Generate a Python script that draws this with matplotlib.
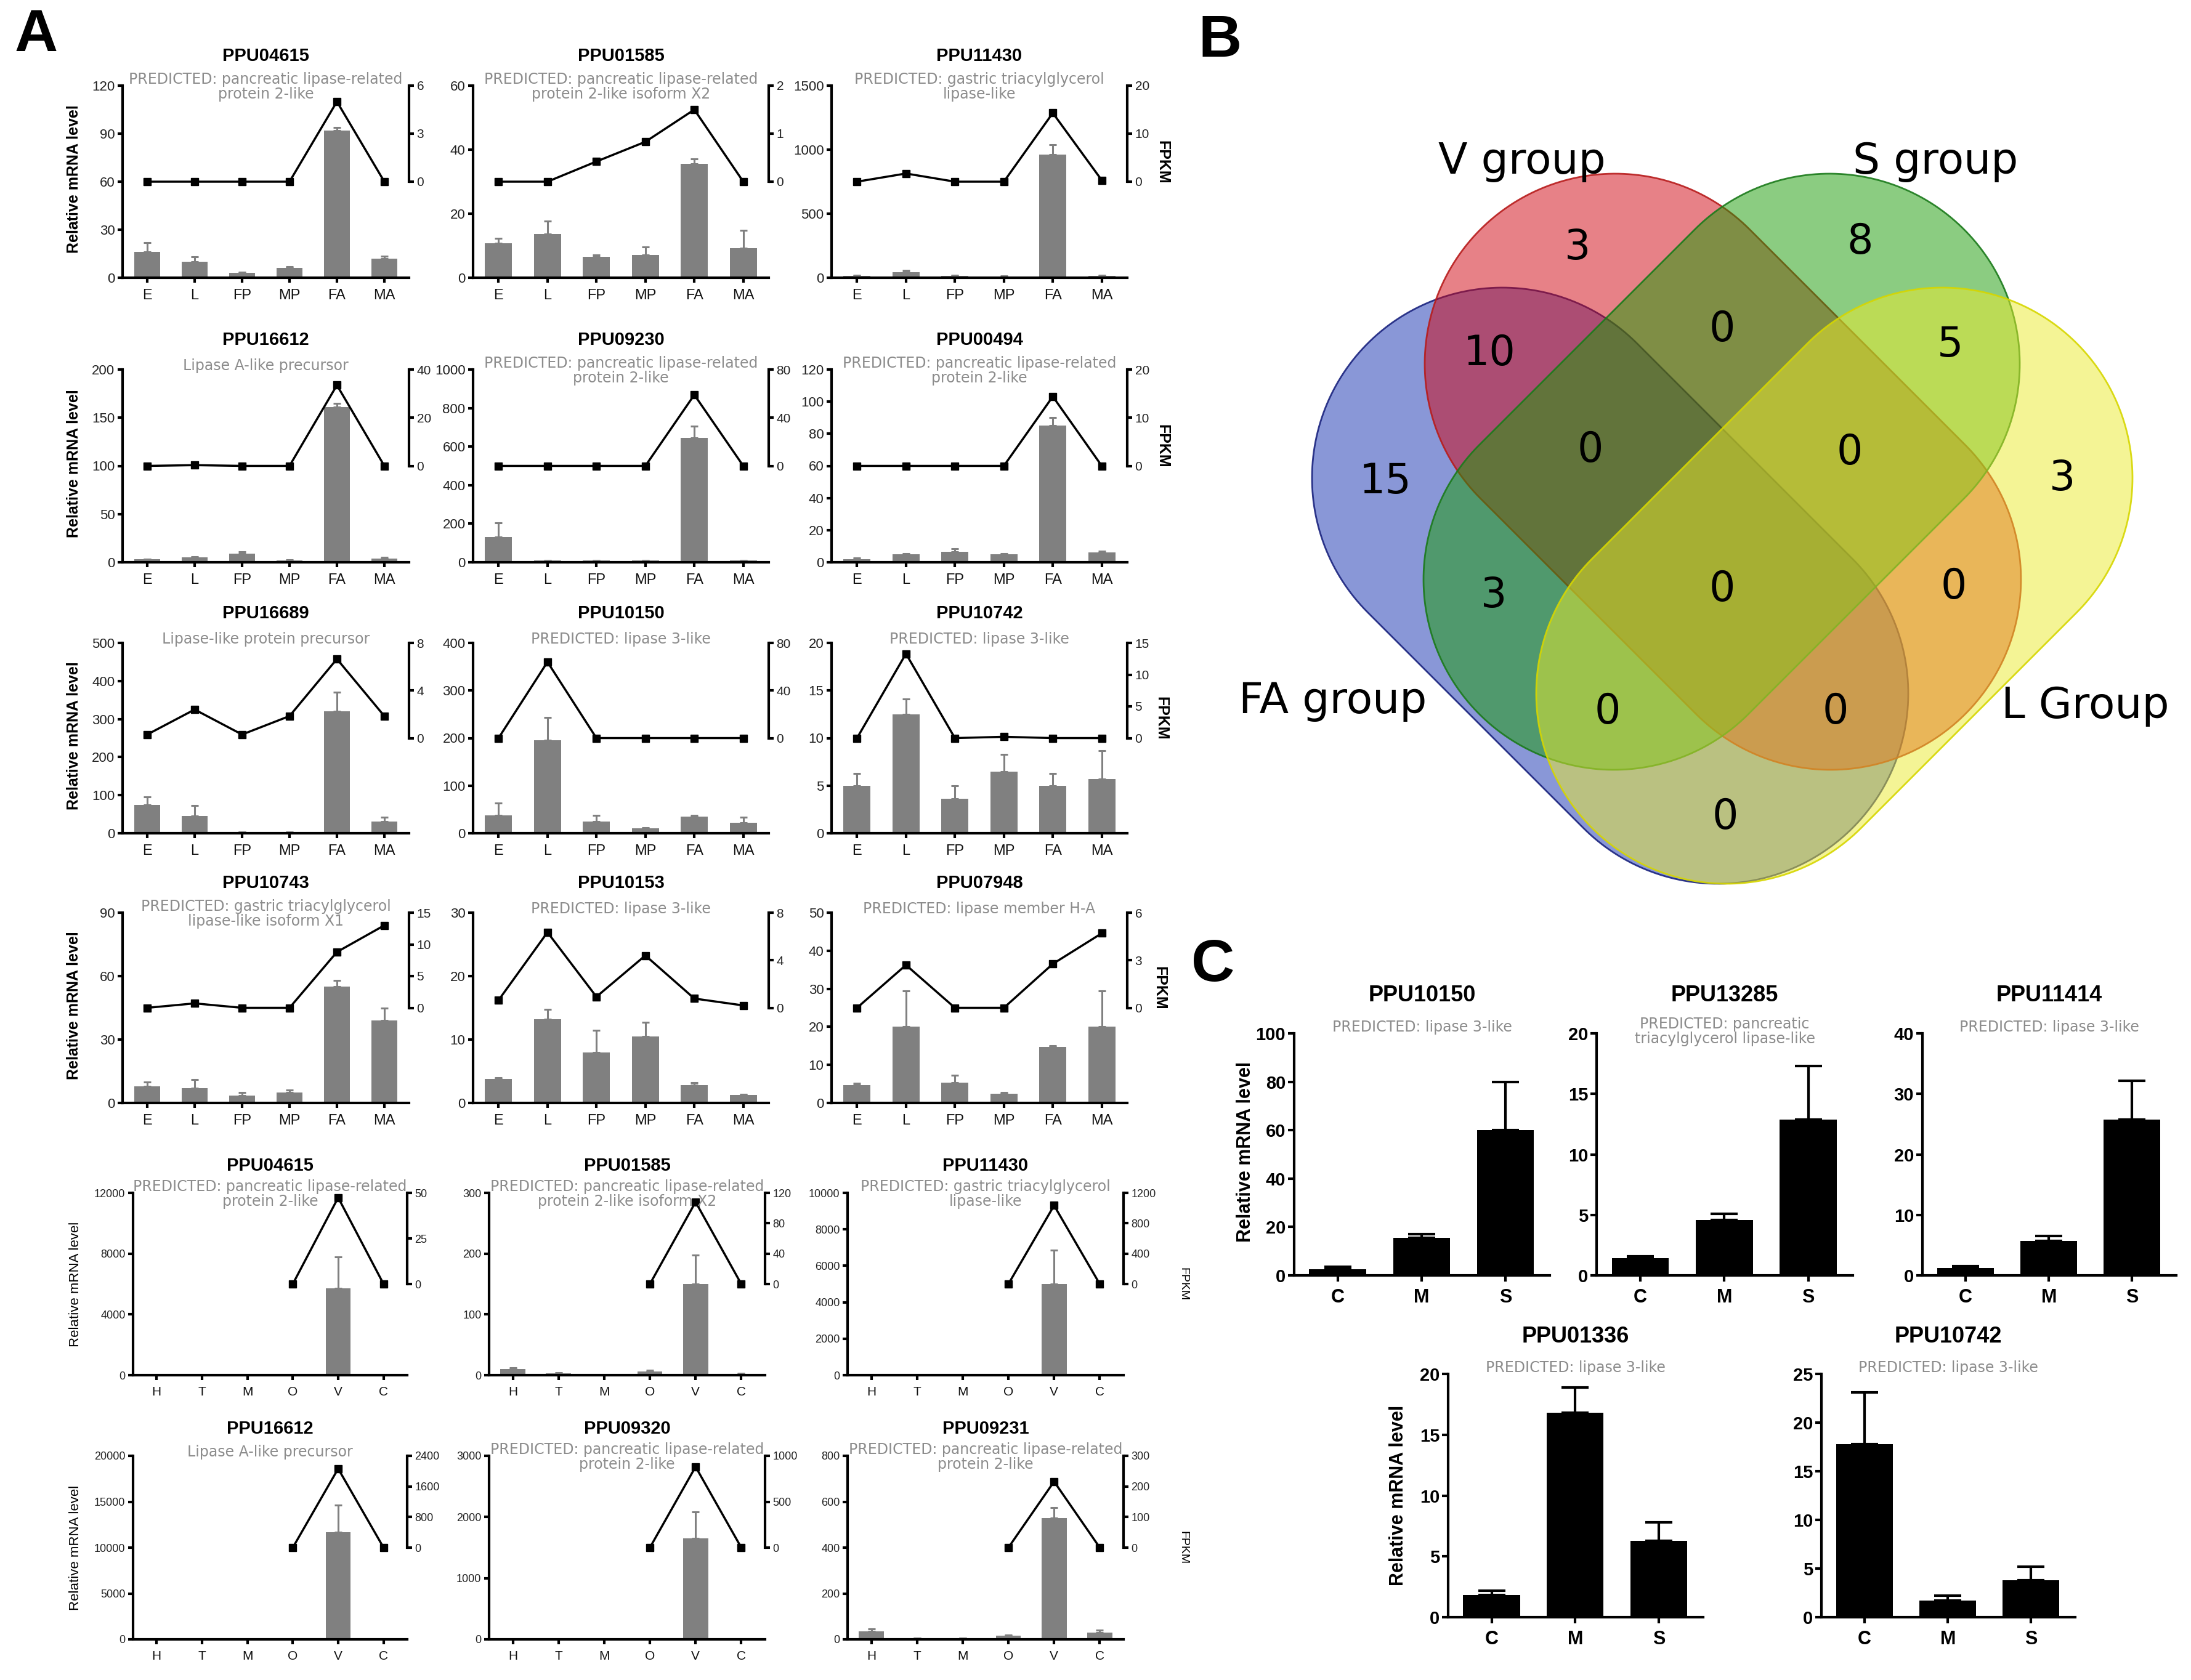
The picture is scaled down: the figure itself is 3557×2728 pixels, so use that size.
import numpy as np
import matplotlib
matplotlib.use('Agg')
import matplotlib.pyplot as plt
from matplotlib.patches import Polygon
from matplotlib.colors import to_rgba

plt.rcParams['font.family'] = ['Liberation Sans', 'DejaVu Sans']

W, H = 3557, 2728
fig = plt.figure(figsize=(W / 100, H / 100), dpi=100)
fig.patch.set_facecolor('white')

# ---------------- data ----------------
stage_labels = ['E', 'L', 'FP', 'MP', 'FA', 'MA']
tissue_labels = ['H', 'T', 'M', 'O', 'V', 'C']

stage_genes = ['PPU04615', 'PPU01585', 'PPU11430',
               'PPU16612', 'PPU09230', 'PPU00494',
               'PPU16689', 'PPU10150', 'PPU10742',
               'PPU10743', 'PPU10153', 'PPU07948']
stage_desc = [
    'PREDICTED: pancreatic lipase-related\nprotein 2-like',
    'PREDICTED: pancreatic lipase-related\nprotein 2-like isoform X2',
    'PREDICTED: gastric triacylglycerol\nlipase-like',
    'Lipase A-like precursor',
    'PREDICTED: pancreatic lipase-related\nprotein 2-like',
    'PREDICTED: pancreatic lipase-related\nprotein 2-like',
    'Lipase-like protein precursor',
    'PREDICTED: lipase 3-like',
    'PREDICTED: lipase 3-like',
    'PREDICTED: gastric triacylglycerol\nlipase-like isoform X1',
    'PREDICTED: lipase 3-like',
    'PREDICTED: lipase member H-A',
]
stage_qpcr = [
    [16, 10, 3, 6, 92, 12],
    [10.8, 13.6, 6.6, 7.2, 35.6, 9.3],
    [15, 45, 15, 12, 960, 15],
    [3, 5, 9, 2, 161, 4],
    [130, 8, 8, 8, 645, 8],
    [2, 5, 6.5, 5, 85, 6],
    [75, 45, 3, 2, 320, 30],
    [38, 195, 25, 10, 35, 22],
    [5, 12.5, 3.6, 6.5, 5, 5.7],
    [8, 7, 3.5, 5, 55, 39],
    [3.8, 13.2, 8, 10.5, 2.8, 1.3],
    [4.7, 20, 5.3, 2.5, 14.8, 20],
]
stage_qpcr_err = [
    [6, 3, 0.6, 1, 2, 1.5],
    [1.6, 4, 0.6, 2.4, 1.5, 5.5],
    [5, 12, 5, 4, 80, 5],
    [0.5, 1, 2, 0.5, 4, 0.8],
    [75, 3, 3, 3, 60, 3],
    [0.5, 0.5, 2, 0.5, 5, 1],
    [20, 28, 1, 1, 50, 12],
    [25, 48, 12, 2, 3, 12],
    [1.3, 1.6, 1.4, 1.8, 1.3, 3],
    [2, 4, 1.5, 1, 3, 6],
    [0.2, 1.6, 3.5, 2.2, 0.4, 0.1],
    [0.5, 9.5, 2, 0.3, 0.3, 9.5],
]
stage_fpkm = [
    [0, 0, 0, 0, 5, 0],
    [0, 0, 0.42, 0.83, 1.5, 0],
    [0, 1.7, 0, 0, 14.3, 0.3],
    [0, 0.3, 0, 0, 33.5, 0],
    [0, 0, 0, 0, 59, 0],
    [0, 0, 0, 0, 14.4, 0],
    [0.3, 2.4, 0.3, 1.85, 6.65, 1.85],
    [0, 64, 0, 0, 0, 0],
    [0, 13.3, 0, 0.2, 0, 0],
    [0, 0.7, 0, 0, 8.8, 13],
    [0.64, 6.35, 0.93, 4.4, 0.78, 0.2],
    [0, 2.7, 0, 0, 2.77, 4.7],
]

tissue_genes = ['PPU04615', 'PPU01585', 'PPU11430',
                'PPU16612', 'PPU09320', 'PPU09231']
tissue_desc = [
    'PREDICTED: pancreatic lipase-related\nprotein 2-like',
    'PREDICTED: pancreatic lipase-related\nprotein 2-like isoform X2',
    'PREDICTED: gastric triacylglycerol\nlipase-like',
    'Lipase A-like precursor',
    'PREDICTED: pancreatic lipase-related\nprotein 2-like',
    'PREDICTED: pancreatic lipase-related\nprotein 2-like',
]
tissue_qpcr = [
    [0, 0, 0, 0, 5700, 0],
    [10, 3, 1, 6, 150, 2],
    [0, 0, 0, 0, 5000, 0],
    [0, 0, 0, 0, 11700, 0],
    [5, 2, 5, 2, 1650, 2],
    [35, 5, 5, 15, 530, 30],
]
tissue_qpcr_err = [
    [0, 0, 0, 0, 2100, 0],
    [2, 1, 0, 2, 48, 1],
    [0, 0, 0, 0, 1850, 0],
    [0, 0, 0, 0, 2900, 0],
    [0, 0, 0, 0, 430, 0],
    [10, 1, 1, 3, 45, 10],
]
nan = np.nan
tissue_fpkm = [
    [nan, nan, nan, 0, 47.4, 0],
    [nan, nan, nan, 0, 108, 0],
    [nan, nan, nan, 0, 1034, 0],
    [nan, nan, nan, 0, 2064, 0],
    [nan, nan, nan, 0, 881, 0],
    [nan, nan, nan, 0, 216, 0],
]

venn_sets = ['FA group', 'V group', 'S group', 'L Group']
venn_regions = ['FA', 'V', 'S', 'L', 'FA&V', 'V&S', 'S&L', 'FA&S', 'V&L', 'FA&L',
                'FA&V&S', 'V&S&L', 'FA&S&L', 'FA&V&L', 'FA&V&S&L']
venn_counts = [15, 3, 8, 3, 10, 0, 5, 3, 0, 0, 0, 0, 0, 0, 0]

c_groups = ['C', 'M', 'S']
c_genes = ['PPU10150', 'PPU13285', 'PPU11414', 'PPU01336', 'PPU10742']
c_desc = ['PREDICTED: lipase 3-like',
          'PREDICTED: pancreatic\ntriacylglycerol lipase-like',
          'PREDICTED: lipase 3-like',
          'PREDICTED: lipase 3-like',
          'PREDICTED: lipase 3-like']
c_mean = [[2.5, 15.5, 60], [1.4, 4.6, 12.9], [1.2, 5.7, 25.7],
          [1.8, 16.8, 6.3], [17.8, 1.7, 3.8]]
c_err = [[1, 1.5, 20], [0.2, 0.5, 4.4], [0.3, 0.8, 6.5],
         [0.4, 2.1, 1.5], [5.3, 0.5, 1.4]]

# ---------------- axis settings ----------------
stage_left_ticks = [[0, 30, 60, 90, 120], [0, 20, 40, 60], [0, 500, 1000, 1500],
                    [0, 50, 100, 150, 200], [0, 200, 400, 600, 800, 1000], [0, 20, 40, 60, 80, 100, 120],
                    [0, 100, 200, 300, 400, 500], [0, 100, 200, 300, 400], [0, 5, 10, 15, 20],
                    [0, 30, 60, 90], [0, 10, 20, 30], [0, 10, 20, 30, 40, 50]]
stage_right_ticks = [[0, 3, 6], [0, 1, 2], [0, 10, 20],
                     [0, 20, 40], [0, 40, 80], [0, 10, 20],
                     [0, 4, 8], [0, 40, 80], [0, 5, 10, 15],
                     [0, 5, 10, 15], [0, 4, 8], [0, 3, 6]]
tissue_left_ticks = [[0, 4000, 8000, 12000], [0, 100, 200, 300], [0, 2000, 4000, 6000, 8000, 10000],
                     [0, 5000, 10000, 15000, 20000], [0, 1000, 2000, 3000], [0, 200, 400, 600, 800]]
tissue_right_ticks = [[0, 25, 50], [0, 40, 80, 120], [0, 400, 800, 1200],
                      [0, 800, 1600, 2400], [0, 500, 1000], [0, 100, 200, 300]]
c_ticks = [[0, 20, 40, 60, 80, 100], [0, 5, 10, 15, 20], [0, 10, 20, 30, 40],
           [0, 5, 10, 15, 20], [0, 5, 10, 15, 20, 25]]

GRAY = '#808080'
SUBGRAY = '#8c8c8c'


def px_rect(l, t, r, b):
    return [l / W, 1 - b / H, (r - l) / W, (b - t) / H]


def ftext(x, y, s, **kw):
    return fig.text(x / W, 1 - y / H, s, **kw)


def draw_expr(rect, cats, mean, err, fpkm, lticks, rticks, gene, desc, small):
    l, t, r, b = rect
    ax = fig.add_axes(px_rect(l, t, r, b))
    x = np.arange(len(cats))
    mean = np.asarray(mean, float)
    err = np.asarray(err, float)
    ax.bar(x, mean, width=0.55, color=GRAY, zorder=2)
    m = err > 0
    if m.any():
        ax.errorbar(x[m], mean[m], yerr=[np.zeros(m.sum()), err[m]], fmt='none',
                    ecolor=GRAY, elinewidth=2.2, capsize=4.5, capthick=2.2, zorder=2)
    ax.set_xlim(-0.52, len(cats) - 0.48)
    ax.set_ylim(0, lticks[-1])
    ax.set_yticks(lticks)
    ax.set_yticklabels([str(v) for v in lticks])
    ax.set_xticks(x)
    ax.set_xticklabels(cats)
    for s in ['top', 'right']:
        ax.spines[s].set_visible(False)
    for s in ['left', 'bottom']:
        ax.spines[s].set_linewidth(3)
    ax.tick_params(axis='both', width=3, length=6, color='black')
    ax.tick_params(axis='y', labelsize=13 if small else 16, labelcolor='#222222', pad=3)
    ax.tick_params(axis='x', labelsize=15 if small else 17, labelcolor='#111111', pad=7)
    ax.patch.set_alpha(0)

    ax2 = ax.twinx()
    top = rticks[-1]
    ax2.set_ylim(-top, top)
    ax2.set_yticks(rticks)
    ax2.set_yticklabels([str(v) for v in rticks])
    for s in ['top', 'left', 'bottom']:
        ax2.spines[s].set_visible(False)
    ax2.spines['right'].set_bounds(0, top)
    ax2.spines['right'].set_linewidth(3)
    ax2.tick_params(axis='y', width=3, length=6, labelsize=13 if small else 15,
                    labelcolor='#222222', pad=3)
    ax2.plot(x, fpkm, color='black', lw=2.5, marker='s', ms=9, clip_on=False, zorder=3)

    cx = (l + r) / 2
    ftext(cx, t - (44 if small else 48), gene, ha='center', va='center',
          fontsize=21, fontweight='bold')
    ftext(cx, t + 2 if '\n' in desc else t - 6, desc, ha='center', va='center',
          fontsize=17, color=SUBGRAY, family=['DejaVu Sans'], linespacing=1.05)
    return ax


def draw_c(rect, mean, err, ticks, gene, desc):
    l, t, r, b = rect
    ax = fig.add_axes(px_rect(l, t, r, b))
    x = np.arange(len(c_groups))
    ax.bar(x, mean, width=0.68, color='black', zorder=2)
    ax.errorbar(x, mean, yerr=[np.zeros(len(err)), err], fmt='none', ecolor='black',
                elinewidth=3, capsize=15.5, capthick=3, zorder=2)
    ax.set_xlim(-0.52, 2.53)
    ax.set_ylim(0, ticks[-1])
    ax.set_yticks(ticks)
    ax.set_yticklabels([str(v) for v in ticks])
    ax.set_xticks(x)
    ax.set_xticklabels(c_groups)
    for s in ['top', 'right']:
        ax.spines[s].set_visible(False)
    for s in ['left', 'bottom']:
        ax.spines[s].set_linewidth(3)
    ax.tick_params(axis='both', width=3, length=7, color='black')
    ax.tick_params(axis='y', labelsize=21, pad=3)
    ax.tick_params(axis='x', labelsize=22, pad=8)
    for lab in ax.get_xticklabels() + ax.get_yticklabels():
        lab.set_fontweight('bold')
    cx = (l + r) / 2
    ftext(cx, t - 61, gene, ha='center', va='center', fontsize=26, fontweight='bold')
    ftext(cx, t - 3 if '\n' in desc else t - 10, desc, ha='center', va='center',
          fontsize=17, color=SUBGRAY, family=['DejaVu Sans'], linespacing=1.05)
    return ax


# ---------------- panel A ----------------
rows_stage = [(139, 451), (600, 913), (1044, 1353), (1482, 1791)]
cols_stage = [(199, 664), (768, 1248), (1350, 1830)]
rows_tissue = [(1937, 2233), (2364, 2662)]
cols_tissue = [(216, 661), (794, 1242), (1376, 1824)]
fpkm_x_stage = [1887, 1887, 1885, 1882]

for i in range(12):
    ri, ci = divmod(i, 3)
    t, b = rows_stage[ri]
    l, r = cols_stage[ci]
    draw_expr((l, t, r, b), stage_labels, stage_qpcr[i], stage_qpcr_err[i], stage_fpkm[i],
              stage_left_ticks[i], stage_right_ticks[i], stage_genes[i], stage_desc[i], False)
    if ci == 0:
        ftext(120, (t + b) / 2 - 4, 'Relative mRNA level', rotation=90, ha='center',
              va='center', fontsize=18, fontweight='bold')
    if ci == 2:
        ftext(fpkm_x_stage[ri], (t + b) / 2 - 32, 'FPKM', rotation=270, ha='center',
              va='center', fontsize=18, fontweight='bold')

for i in range(6):
    ri, ci = divmod(i, 3)
    t, b = rows_tissue[ri]
    l, r = cols_tissue[ci]
    draw_expr((l, t, r, b), tissue_labels, tissue_qpcr[i], tissue_qpcr_err[i], tissue_fpkm[i],
              tissue_left_ticks[i], tissue_right_ticks[i], tissue_genes[i], tissue_desc[i], True)
    if ci == 0:
        ftext(122, (t + b) / 2, 'Relative mRNA level', rotation=90, ha='center',
              va='center', fontsize=16)
    if ci == 2:
        ftext(1921, (t + b) / 2, 'FPKM', rotation=270, ha='center', va='center', fontsize=14)

# ---------------- panel B (Venn) ----------------
vax = fig.add_axes(px_rect(1950, 150, 3557, 1480))
vax.set_xlim(1950, 3557)
vax.set_ylim(1480, 150)
vax.axis('off')


def stadium(c1, c2, rad, n=120):
    c1 = np.asarray(c1, float)
    c2 = np.asarray(c2, float)
    d = c2 - c1
    ang = np.arctan2(d[1], d[0])
    t2 = np.linspace(ang - np.pi / 2, ang + np.pi / 2, n)
    t1 = np.linspace(ang + np.pi / 2, ang + 3 * np.pi / 2, n)
    return np.vstack([c2 + rad * np.c_[np.cos(t2), np.sin(t2)],
                      c1 + rad * np.c_[np.cos(t1), np.sin(t1)]])


venn_shapes = [((2439, 776), (2789, 1126)),
               ((2622, 591), (2972, 941)),
               ((2970, 591), (2620, 941)),
               ((3153, 776), (2803, 1126))]
venn_fill = ['#1530b0', '#d00510', '#199b05', '#ebeb2d']
venn_edge = ['#1a237e', '#b71c1c', '#1b7a1b', '#d6d600']
for (c1, c2), fc, ec in zip(venn_shapes, venn_fill, venn_edge):
    pts = stadium(c1, c2, 309)
    vax.add_patch(Polygon(pts, closed=True, facecolor=to_rgba(fc, 0.5),
                          edgecolor=to_rgba(ec, 0.9), lw=2))

venn_label_pos = [(2164, 1138), (2471, 262), (3142, 262), (3385, 1147)]
for name, (x, y) in zip(venn_sets, venn_label_pos):
    vax.text(x, y, name, ha='center', va='center', fontsize=50, family=['DejaVu Sans'])

venn_count_pos = {'FA': (2249, 782), 'V': (2561, 402), 'S': (3020, 393), 'L': (3348, 777),
                  'FA&V': (2418, 574), 'V&S': (2796, 535), 'S&L': (3166, 560),
                  'FA&S': (2425, 967), 'V&L': (3172, 953), 'FA&L': (2801, 1327),
                  'FA&V&S': (2582, 731), 'V&S&L': (3003, 735), 'FA&S&L': (2610, 1156),
                  'FA&V&L': (2980, 1156), 'FA&V&S&L': (2796, 957)}
for reg, cnt in zip(venn_regions, venn_counts):
    x, y = venn_count_pos[reg]
    vax.text(x, y, str(cnt), ha='center', va='center', fontsize=48, family=['DejaVu Sans'])

# ---------------- panel C ----------------
c_rects = [(2101, 1678, 2516, 2071), (2592, 1678, 3008, 2071), (3121, 1678, 3533, 2071),
           (2351, 2231, 2765, 2626), (2957, 2231, 3369, 2626)]
for i in range(5):
    draw_c(c_rects[i], c_mean[i], c_err[i], c_ticks[i], c_genes[i], c_desc[i])
ftext(2022, 1870, 'Relative mRNA level', rotation=90, ha='center', va='center',
      fontsize=22, fontweight='bold')
ftext(2270, 2428, 'Relative mRNA level', rotation=90, ha='center', va='center',
      fontsize=22, fontweight='bold')

# ---------------- panel letters ----------------
ftext(59, 58, 'A', ha='center', va='center', fontsize=70, fontweight='bold')
ftext(1981, 67, 'B', ha='center', va='center', fontsize=70, fontweight='bold')
ftext(1969, 1568, 'C', ha='center', va='center', fontsize=70, fontweight='bold')

fig.savefig('out.png', dpi=100, facecolor='white')
